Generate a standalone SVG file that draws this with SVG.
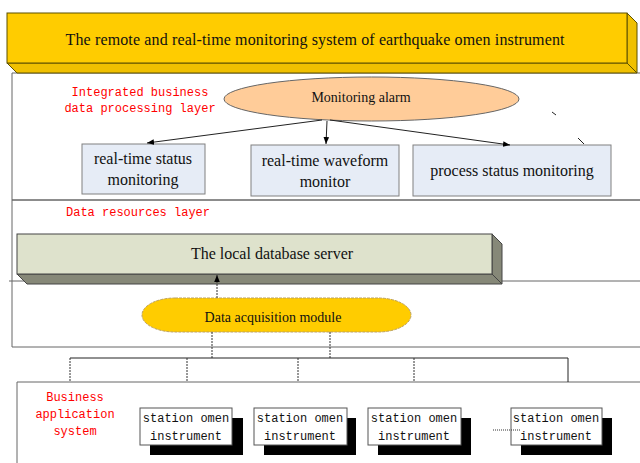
<svg xmlns="http://www.w3.org/2000/svg" width="640" height="463" viewBox="0 0 640 463">
<defs>
<style>
.serif{font-family:"Liberation Serif","Times New Roman",serif;fill:#111}
.mono{font-family:"Liberation Mono","Courier New",monospace;fill:#111}
.red{font-family:"Liberation Mono","Courier New",monospace;fill:#ff0000;font-size:12px}
.layer{fill:none;stroke:#666;stroke-width:1}
.sbox{fill:#e6ecf6;stroke:#808080;stroke-width:1}
.stn{fill:#fff;stroke:#555;stroke-width:1}
.conn{stroke:#222;stroke-width:1;fill:none}
.dash{stroke:#333;stroke-width:1;fill:none;stroke-dasharray:2,1}
</style>
<marker id="ah" viewBox="0 0 10 10" refX="10" refY="5" markerWidth="7" markerHeight="7" orient="auto-start-reverse" markerUnits="userSpaceOnUse">
<path d="M0,1 L10,5 L0,9 z" fill="#000"/>
</marker>
</defs>
<rect width="640" height="463" fill="#fff"/>

<g id="layers">
<path class="layer" d="M640,73 H12 V200 H640"/>
<path class="layer" d="M640,200 H12 V347 H640"/>
<path class="layer" d="M9,281 H640"/>
<path class="layer" d="M640,382 H17 V463"/>
</g>

<g id="banner">
<polygon points="627,13 637,23 637,73 627,63" fill="#f0c000" stroke="#5c5000"/>
<polygon points="7,63 627,63 637,73 17,73" fill="#f0c000" stroke="#5c5000"/>
<rect x="7" y="13" width="620" height="50" fill="#ffcc00" stroke="#5c5000"/>
<text class="serif" x="315" y="45" font-size="16" text-anchor="middle" textLength="499">The remote and real-time monitoring system of earthquake omen instrument</text>
</g>

<g id="label-integrated">
<text class="red" x="140" y="96" text-anchor="middle">Integrated business</text>
<text class="red" x="140" y="112" text-anchor="middle">data processing layer</text>
</g>

<g id="monitoring-alarm">
<ellipse cx="371.5" cy="99" rx="147.5" ry="22" fill="#ffcc99" stroke="#666"/>
<text class="serif" x="361" y="102" font-size="14" text-anchor="middle">Monitoring alarm</text>
</g>

<g id="status-box">
<rect class="sbox" x="82" y="144" width="123" height="50"/>
<text class="serif" x="143" y="164" font-size="16" text-anchor="middle">real-time status</text>
<text class="serif" x="143" y="185" font-size="16" text-anchor="middle">monitoring</text>
</g>

<g id="waveform-box">
<rect class="sbox" x="251" y="145" width="148" height="51"/>
<text class="serif" x="325" y="166" font-size="16" text-anchor="middle">real-time waveform</text>
<text class="serif" x="325" y="187" font-size="16" text-anchor="middle">monitor</text>
</g>

<g id="process-box">
<rect class="sbox" x="413" y="145" width="198" height="51"/>
<text class="serif" x="512" y="176" font-size="16" text-anchor="middle">process status monitoring</text>
</g>

<g id="label-data-resources">
<text class="red" x="138" y="216" text-anchor="middle">Data resources layer</text>
</g>

<g id="database-server">
<polygon points="492,234 502,244 502,284 492,274" fill="#868878" stroke="#444"/>
<polygon points="17,274 492,274 502,284 27,284" fill="#868878" stroke="#444"/>
<rect x="17" y="234" width="475" height="40" fill="#dee2cc" stroke="#444"/>
<text class="serif" x="272" y="259" font-size="16" text-anchor="middle">The local database server</text>
</g>

<g id="data-acquisition">
<path d="M175,298 H378 A33,17 0 0 1 378,332 H175 A33,17 0 0 1 175,298 Z" fill="#ffcc00" stroke="#bba060" stroke-dasharray="3,1"/>
<text class="serif" x="273" y="322" font-size="14" text-anchor="middle">Data acquisition module</text>
</g>

<g id="label-business">
<text class="red" x="75" y="401" text-anchor="middle">Business</text>
<text class="red" x="75" y="418" text-anchor="middle">application</text>
<text class="red" x="75" y="435" text-anchor="middle">system</text>
</g>

<g id="station-1">
<rect x="150" y="418" width="93" height="37" fill="#000"/>
<rect class="stn" x="140" y="408" width="92" height="37"/>
<text class="mono" x="186" y="422" font-size="12" text-anchor="middle">station omen</text>
<text class="mono" x="186" y="440" font-size="12" text-anchor="middle">instrument</text>
</g>
<g id="station-2">
<rect x="264" y="418" width="92" height="37" fill="#000"/>
<rect class="stn" x="254" y="408" width="93" height="37"/>
<text class="mono" x="300" y="422" font-size="12" text-anchor="middle">station omen</text>
<text class="mono" x="300" y="440" font-size="12" text-anchor="middle">instrument</text>
</g>
<g id="station-3">
<rect x="378" y="418" width="93" height="37" fill="#000"/>
<rect class="stn" x="368" y="408" width="93" height="37"/>
<text class="mono" x="414" y="422" font-size="12" text-anchor="middle">station omen</text>
<text class="mono" x="414" y="440" font-size="12" text-anchor="middle">instrument</text>
</g>
<g id="station-4">
<rect x="521" y="418" width="91" height="37" fill="#000"/>
<rect class="stn" x="511" y="408" width="91" height="37"/>
<text class="mono" x="556" y="422" font-size="12" text-anchor="middle">station omen</text>
<text class="mono" x="556" y="440" font-size="12" text-anchor="middle">instrument</text>
</g>

<g id="connectors">
<line class="conn" x1="322" y1="120" x2="147" y2="143" marker-end="url(#ah)"/>
<line class="conn" x1="327" y1="121" x2="326" y2="144" marker-end="url(#ah)"/>
<line class="conn" x1="330" y1="120" x2="510" y2="145" marker-end="url(#ah)"/>
<line class="conn" x1="552" y1="112" x2="556" y2="115"/>
<line class="conn" x1="578" y1="138" x2="584" y2="144" stroke="#666"/>
<line class="dash" x1="217" y1="298" x2="217" y2="275" marker-end="url(#ah)"/>
<line class="dash" x1="212" y1="332" x2="212" y2="358"/>
<line class="dash" x1="330" y1="332" x2="330" y2="358"/>
<path class="conn" d="M70,358 H568 V382"/>
<line class="dash" x1="70" y1="358" x2="70" y2="382"/>
<line class="dash" x1="187" y1="358" x2="187" y2="382"/>
<line class="dash" x1="298" y1="358" x2="298" y2="382"/>
<line class="dash" x1="414" y1="358" x2="414" y2="382"/>
<line x1="493" y1="430" x2="520" y2="430" stroke="#333" stroke-dasharray="1,1"/>
</g>
</svg>
